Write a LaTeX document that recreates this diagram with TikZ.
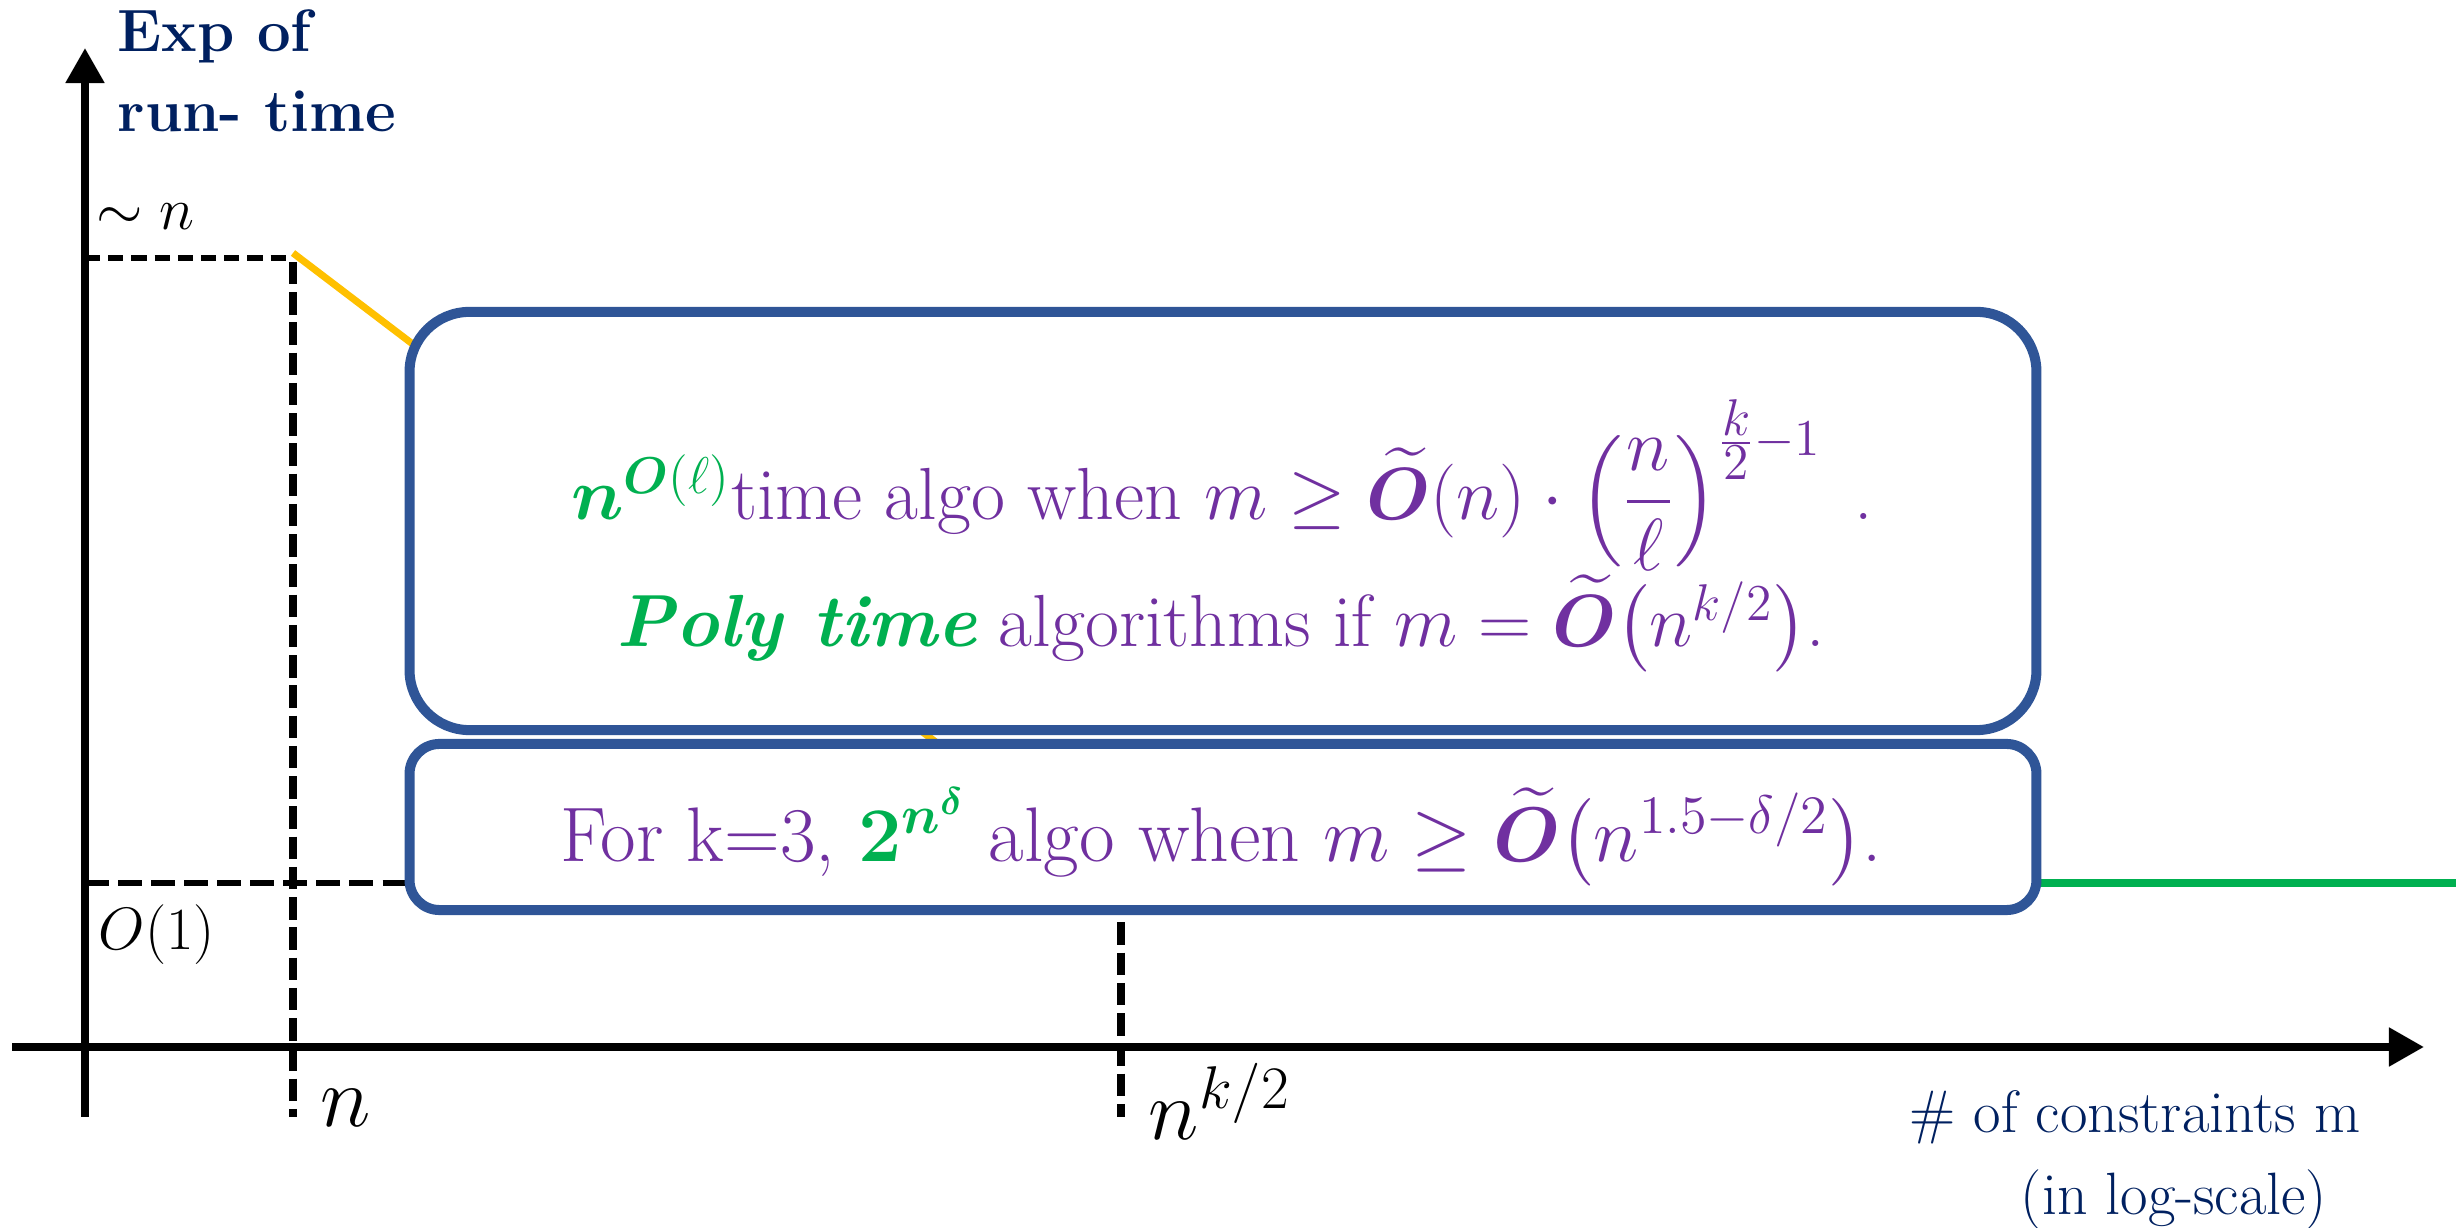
\RequirePackage{fix-cm}
\documentclass[tikz,border=0pt]{standalone}
\usepackage{amsmath}
\usepackage{bm}
\usetikzlibrary{arrows.meta, positioning}

\definecolor{marino}{HTML}{002060}
\definecolor{lila}{HTML}{7030A0}
\definecolor{verde}{HTML}{00B050}
\definecolor{ambar}{HTML}{FFC000}
\definecolor{marco}{HTML}{2F5597}

\begin{document}
\begin{tikzpicture}[
        x=0.01cm, y=-0.01cm,
        eje/.style={line width=2.3pt, -{Triangle[length=0.35cm, width=0.37cm]}},
        guion/.style={line width=1.7pt, dash pattern=on 4.3pt off 2.3pt},
        guionlargo/.style={line width=1.7pt, dash pattern=on 6.8pt off 2.6pt},
        guiongrueso/.style={line width=2.5pt, dash pattern=on 6.4pt off 2.2pt},
        curva/.style={line width=2pt},
        caja/.style={draw=marco, line width=2.85pt, fill=white, minimum width=16.26cm},
        etiqueta/.style={inner sep=0pt, font=\fontsize{17}{20}\selectfont},
        marca/.style={inner sep=0pt, font=\fontsize{24.5}{28}\selectfont},
        titulo/.style={inner sep=0pt, text=marino, font=\fontsize{17}{20}\selectfont},
        texto/.style={inner sep=0pt, text=lila, font=\fontsize{21}{25}\selectfont}
    ]
        \useasboundingbox (0,0) rectangle (2456,1228);
        % puntos de los ejes
        \coordinate (o) at (85,1047);
        \coordinate (ytop) at (85,48);
        \coordinate (ybot) at (85,1117);
        \coordinate (xizq) at (12,1047);
        \coordinate (xder) at (2424,1047);
        \coordinate (pn) at (293,258);
        \coordinate (pnb) at (293,1117);
        \coordinate (pk) at (1121,883);
        \coordinate (pkb) at (1121,1117);
        \coordinate (pkt) at (1121,620);
        \draw[eje] (ybot) -- (ytop);
        \draw[eje] (xizq) -- (xder);
        % lineas de referencia
        \draw[guion] (85,258) -- (pn);
        \draw[guiongrueso] (293,262) -- (pnb);
        \draw[guionlargo] (85,883) -- (410,883);
        \draw[guiongrueso] (pkt) -- (pkb);
        \draw[curva, ambar] (293,253) -- (pk);
        \draw[curva, verde] (pk) -- (2456,883);
        % cajas
        \node[caja, rounded corners=0.6cm, minimum height=4.18cm] (arriba) at (1223,521) {};
        \node[caja, rounded corners=0.3cm, minimum height=1.66cm] (abajo) at (1223,827) {};
        \node[texto, anchor=base] (linea1) at (1222,520) {{\color{verde}$\bm{n}^{\bm{O}(\ell)}$}time algo when $m \geq \widetilde{\bm{O}}(n)\cdot\left(\dfrac{n}{\ell}\right)^{\frac{\scriptstyle k}{\scriptstyle 2}-1}$\;\,.};
        \node[texto, anchor=base] (linea2) at (1221,647) {{\color{verde}\textbf{\textit{Poly time}}} algorithms if $m = \widetilde{\bm{O}}\bigl(n^{k/2}\bigr)$.};
        \node[texto, anchor=base, font=\fontsize{22}{26}\selectfont] (linea3) at (1221,862) {For k=3, {\color{verde}$\bm{2^{n^{\delta}}}$} algo when $m \geq \widetilde{\bm{O}}\bigl(n^{1.5-\delta/2}\bigr)$.};
        % etiquetas
        \node[titulo, anchor=base west] (ylab1) at (117,52) {\textbf{Exp of}};
        \node[titulo, anchor=base west] (ylab2) at (117,132) {\textbf{run- time}};
        \node[etiqueta, anchor=base west] (alto) at (96,230) {$\sim n$};
        \node[etiqueta, anchor=base west] (bajo) at (98,950) {$O(1)$};
        \node[marca, anchor=base west] (marca1) at (320,1127) {$n$};
        \node[marca, anchor=base west] (marca2) at (1148,1140) {$n^{k/2}$};
        \node[titulo, anchor=base] (xlab1) at (2135,1133) {\# of constraints m};
        \node[titulo, anchor=base] (xlab2) at (2174,1215) {(in log-scale)};
    \end{tikzpicture}
\end{document}
